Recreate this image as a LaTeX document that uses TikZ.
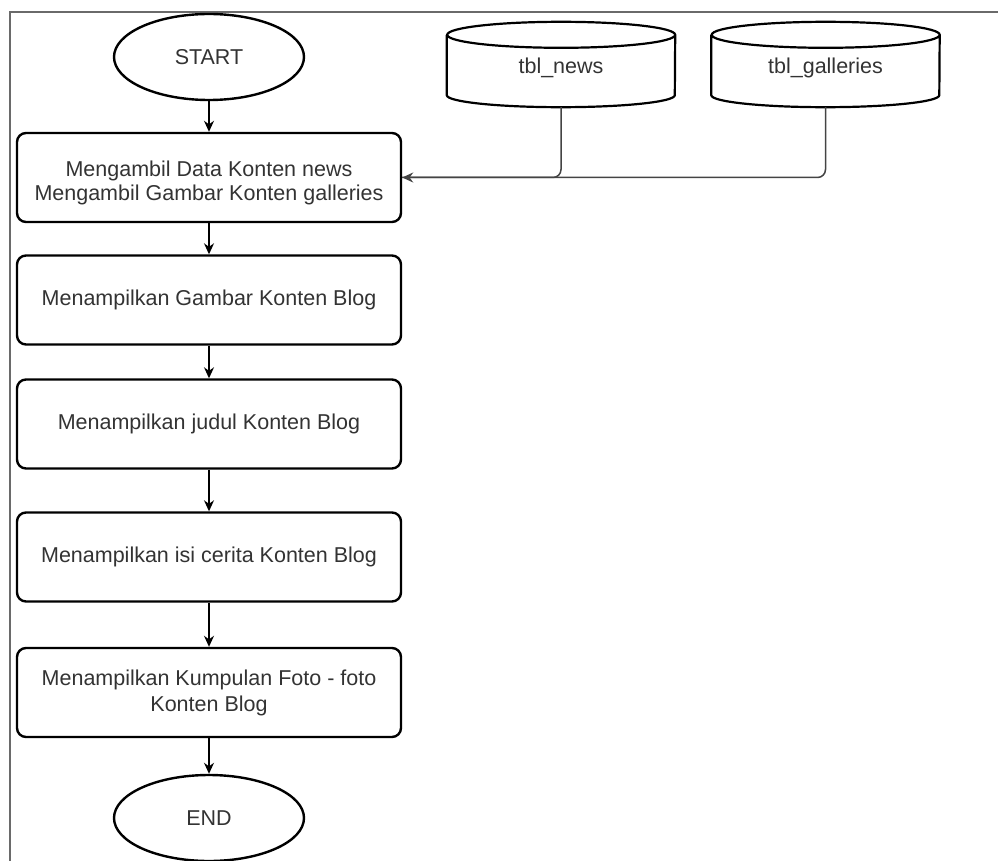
\documentclass[tikz,border=0pt]{standalone}
\usepackage{fontspec}
\setmainfont{Liberation Sans}
\usetikzlibrary{arrows.meta,shapes.geometric}
\definecolor{txt}{HTML}{333333}
\definecolor{frame}{HTML}{6A6A6A}
\definecolor{conn}{HTML}{444444}
\tikzset{
  every node/.style={font=\fontsize{21.5}{26}\selectfont, text=txt},
  procbox/.style={draw=black, line width=2.4pt, rounded corners=9pt, minimum width=384pt, minimum height=89pt, align=center, inner sep=0pt},
  term/.style={draw=black, line width=2.4pt, ellipse, minimum width=190pt, minimum height=86pt, inner sep=0pt},
  dbarea/.style={minimum width=228pt, minimum height=85pt, inner sep=0pt},
  cylline/.style={draw=black, line width=2.2pt},
  flow/.style={draw=black, line width=1.6pt, -{Stealth[length=11pt,width=10pt]}},
  feed/.style={draw=conn, line width=1.5pt, rounded corners=8pt},
}
\begin{document}
\begin{tikzpicture}[x=1pt,y=-1pt]
\useasboundingbox (0,0) rectangle (998,861);
% frame
\draw[frame, line width=1.8pt] (10,861) -- (10,12) -- (998,12);
% flow nodes
\node[term] (start) at (209,57) {START};
\node[procbox] (b1) at (209,177.5) {\raisebox{-5pt}[\height][\depth]{\shortstack{Mengambil Data Konten news\\[1pt]Mengambil Gambar Konten galleries}}};
\node[procbox] (b2) at (209,300) {Menampilkan Gambar Konten Blog};
\node[procbox] (b3) at (209,424) {Menampilkan judul Konten Blog};
\node[procbox] (b4) at (209,557) {Menampilkan isi cerita Konten Blog};
\node[procbox] (b5) at (209,692.5) {Menampilkan Kumpulan Foto - foto\\Konten Blog};
\node[term] (end) at (209,818) {END};
% databases
\node[dbarea] (news) at (561,64.5) {\raisebox{-3pt}[\height][\depth]{tbl\_news}};
\node[dbarea] (gal) at (825.5,64.5) {\raisebox{-3pt}[\height][\depth]{tbl\_galleries}};
\foreach \n in {news,gal} {
  \draw[cylline] ([yshift=-13pt]\n.north west) -- ([yshift=12pt]\n.south west)
    arc[start angle=180, end angle=360, x radius=114pt, y radius=12pt]
    -- ([yshift=-13pt]\n.north east)
    arc[start angle=0, end angle=360, x radius=114pt, y radius=13pt];
}
% connectors
\draw[flow] (start) -- (b1);
\draw[flow] (b1) -- (b2);
\draw[flow] (b2) -- (b3);
\draw[flow] (b3) -- (b4);
\draw[flow] (b4) -- (b5);
\draw[flow] (b5) -- (end);
\draw[feed] (gal.south) |- (b1.east);
\draw[feed, -{Stealth[length=11pt,width=10pt]}] (news.south) |- (b1.east);
\end{tikzpicture}
\end{document}
